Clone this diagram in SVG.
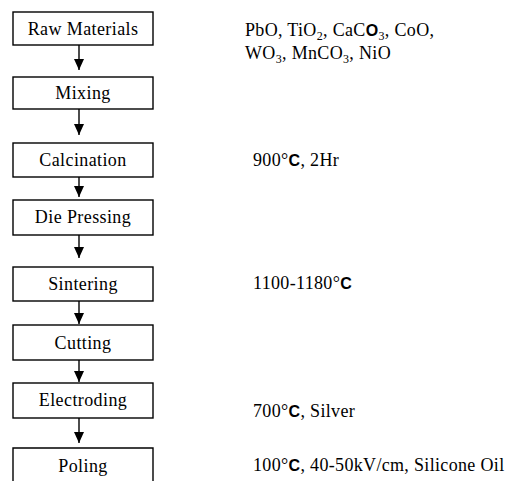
<svg xmlns="http://www.w3.org/2000/svg" width="509" height="481" viewBox="0 0 509 481">
<style>
.box{fill:#fff;stroke:#000;stroke-width:1.4}
.lbl{font-size:18px;fill:#000;text-anchor:middle;letter-spacing:0.4px}
.note{font-size:18px;fill:#000;letter-spacing:0.33px}
.sans{font-weight:bold;font-size:16px}
.sub{font-size:12px}
.conn{stroke:#000;stroke-width:1.4;fill:none}
</style>
<defs>
<marker id="ah" viewBox="0 0 11 10" refX="11" refY="5" markerWidth="11" markerHeight="10" markerUnits="userSpaceOnUse" orient="auto">
<path d="M0,0 L11,5 L0,10 Z" fill="#000"/>
</marker>
</defs>
<rect width="509" height="481" fill="#fff"/>
<g id="n1"><rect class="box" x="13" y="12" width="140" height="33"/><text class="lbl" font-family="'Liberation Serif','Times New Roman',serif" x="83" y="35">Raw Materials</text></g>
<g id="n2"><rect class="box" x="13" y="77" width="140" height="32"/><text class="lbl" font-family="'Liberation Serif','Times New Roman',serif" x="83" y="99">Mixing</text></g>
<g id="n3"><rect class="box" x="13" y="143" width="140" height="34"/><text class="lbl" font-family="'Liberation Serif','Times New Roman',serif" x="83" y="166">Calcination</text></g>
<g id="n4"><rect class="box" x="13" y="200" width="140" height="35"/><text class="lbl" font-family="'Liberation Serif','Times New Roman',serif" x="83" y="223">Die Pressing</text></g>
<g id="n5"><rect class="box" x="13" y="267" width="140" height="34"/><text class="lbl" font-family="'Liberation Serif','Times New Roman',serif" x="83" y="290">Sintering</text></g>
<g id="n6"><rect class="box" x="13" y="325" width="140" height="35"/><text class="lbl" font-family="'Liberation Serif','Times New Roman',serif" x="83" y="349">Cutting</text></g>
<g id="n7"><rect class="box" x="13" y="383" width="140" height="35"/><text class="lbl" font-family="'Liberation Serif','Times New Roman',serif" x="83" y="406">Electroding</text></g>
<g id="n8"><path class="box" d="M13,482 V448 H153 V482"/><text class="lbl" font-family="'Liberation Serif','Times New Roman',serif" x="83" y="472">Poling</text></g>
<g id="connectors">
<line class="conn" x1="79" y1="45" x2="79" y2="70" marker-end="url(#ah)"/>
<line class="conn" x1="79" y1="109" x2="79" y2="135" marker-end="url(#ah)"/>
<line class="conn" x1="79" y1="177" x2="79" y2="197" marker-end="url(#ah)"/>
<line class="conn" x1="79" y1="235" x2="79" y2="258" marker-end="url(#ah)"/>
<line class="conn" x1="79" y1="301" x2="79" y2="324" marker-end="url(#ah)"/>
<line class="conn" x1="79" y1="360" x2="79" y2="382" marker-end="url(#ah)"/>
<line class="conn" x1="79" y1="418" x2="79" y2="443" marker-end="url(#ah)"/>
</g>
<g id="notes" font-family="'Liberation Serif','Times New Roman',serif">
<text class="note" x="245" y="36" letter-spacing="1.1">PbO, TiO<tspan class="sub" dy="4">2</tspan><tspan dy="-4">, CaC</tspan><tspan class="sans" font-family="'Liberation Sans',Arial,sans-serif">O</tspan><tspan class="sub" dy="4">3</tspan><tspan dy="-4">, CoO,</tspan></text>
<text class="note" x="245" y="59" letter-spacing="0.6">WO<tspan class="sub" dy="4">3</tspan><tspan dy="-4">, MnCO</tspan><tspan class="sub" dy="4">3</tspan><tspan dy="-4">, NiO</tspan></text>
<text class="note" x="253" y="166">900°<tspan class="sans" font-family="'Liberation Sans',Arial,sans-serif">C</tspan>, 2Hr</text>
<text class="note" x="253" y="289">1100-1180°<tspan class="sans" font-family="'Liberation Sans',Arial,sans-serif">C</tspan></text>
<text class="note" x="253" y="417">700°<tspan class="sans" font-family="'Liberation Sans',Arial,sans-serif">C</tspan>, Silver</text>
<text class="note" x="253" y="471">100°<tspan class="sans" font-family="'Liberation Sans',Arial,sans-serif">C</tspan>, 40-50kV/cm, Silicone Oil</text>
</g>
</svg>
